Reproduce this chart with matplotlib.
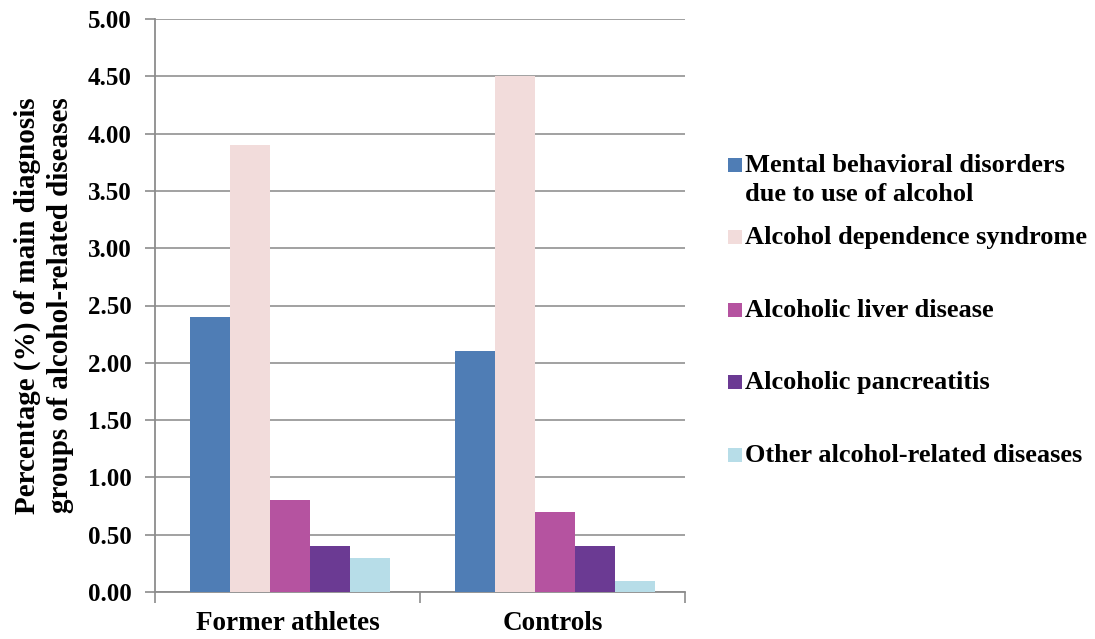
import matplotlib
matplotlib.use("Agg")
import matplotlib.pyplot as plt
from matplotlib.patches import Rectangle
import numpy as np

# Data
groups = ["Former athletes", "Controls"]
series = [
    "Mental behavioral disorders\ndue to use of alcohol",
    "Alcohol dependence syndrome",
    "Alcoholic liver disease",
    "Alcoholic pancreatitis",
    "Other alcohol-related diseases",
]
mental = [2.4, 2.1]
dependence = [3.9, 4.5]
liver = [0.8, 0.7]
pancreatitis = [0.4, 0.4]
other = [0.3, 0.1]
values = [mental, dependence, liver, pancreatitis, other]
colors = ["#4F7DB5", "#F2DCDB", "#B553A0", "#6B3A93", "#B7DDE8"]
yticks = np.arange(0, 5.01, 0.5)

plt.rcParams["font.family"] = ["Liberation Serif", "DejaVu Serif"]
plt.rcParams["font.weight"] = "bold"

W, H = 1095, 639
fig = plt.figure(figsize=(W / 100, H / 100), dpi=100)
ax = fig.add_axes([155 / W, 47 / H, 530 / W, 573 / H])

x = np.arange(len(groups))
width = 0.151
for i, (vals, col) in enumerate(zip(values, colors)):
    ax.bar(x + 0.01 + (i - 2) * width, vals, width, color=col, zorder=3, linewidth=0)

ax.set_xlim(-0.5, 1.5)
ax.set_ylim(0, 5)
ax.set_yticks(yticks)
ax.set_yticklabels([f"{v:.2f}" for v in yticks], fontsize=18, fontweight="bold")
ax.set_xticks(x)
ax.set_xticklabels(groups, fontsize=19.5, fontweight="bold")
ax.tick_params(axis="x", length=0, pad=14)
ax.set_xticks([-0.5, 0.5, 1.5], minor=True)
ax.tick_params(axis="x", which="minor", length=8, width=1.2, color="#8C8C8C")
ax.tick_params(axis="y", length=7, width=1.2, color="#8C8C8C", pad=10)

ax.grid(axis="y", color="#9A9A9A", linewidth=1.3, zorder=0)
for s in ["top", "right"]:
    ax.spines[s].set_visible(False)
for s in ["left", "bottom"]:
    ax.spines[s].set_color("#8C8C8C")
    ax.spines[s].set_linewidth(1.3)

ax.set_ylabel("Percentage (%) of main diagnosis\ngroups of alcohol-related diseases",
              fontsize=21, fontweight="bold", linespacing=1.25, labelpad=10)

# Legend drawn as colour keys and labels to the right of the axes
baselines = [172, 244, 317, 389, 462]
line_gap = 29
for name, col, base in zip(series, colors, baselines):
    fig.patches.append(Rectangle((728 / W, 1 - base / H), 14 / W, 14 / H,
                                 transform=fig.transFigure, facecolor=col,
                                 edgecolor="none"))
    for k, line in enumerate(name.split("\n")):
        fig.text(745 / W, 1 - (base + k * line_gap) / H, line, fontsize=19,
                 fontweight="bold", va="baseline", ha="left")

fig.savefig("out.png", dpi=100)
